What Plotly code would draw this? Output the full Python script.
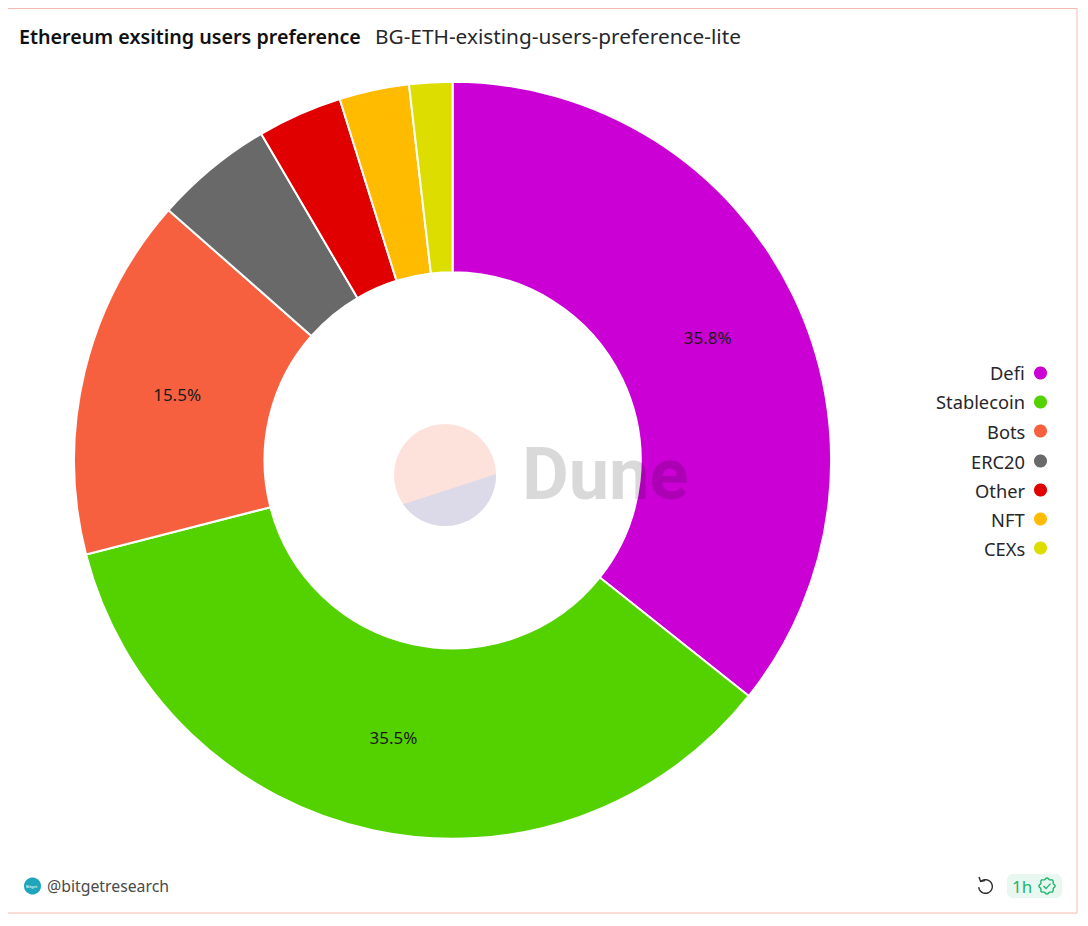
"""Ethereum existing users preference donut, Dune style card."""

import math

import plotly.graph_objects as go

categories = ["Defi", "Stablecoin", "Bots", "ERC20", "Other", "NFT", "CEXs"]
shares = [35.7, 35.3, 15.5, 5.07, 3.62, 2.98, 1.84]
slice_colors = ["#CA00D4", "#54D200", "#F6603F", "#696969", "#E00000", "#FFBB00", "#DDDD00"]
# the labels as printed on the chart
slice_text = ["35.8%", "35.5%", "15.5%", "", "", "", ""]

TITLE = "Ethereum exsiting users preference"
SUBTITLE = "BG-ETH-existing-users-preference-lite"
OWNER = "@bitgetresearch"

FONT = "Noto Sans"
INK = "#1f2024"

# the page keeps the browser's 8px body margin, so the figure starts at (8, 8)
ORIGIN = 8
WIDTH = 1072
HEIGHT = 908

CX, CY, RADIUS = 452.6, 460.3, 378.5


def px(x):
    return (x - ORIGIN) / WIDTH


def py(y):
    return 1 - (y - ORIGIN) / HEIGHT


def path_of(points, close=True):
    body = "L".join(f"{px(x):.5f},{py(y):.5f}" for x, y in points)
    return "M" + body + ("Z" if close else "")


def arc(cx, cy, r, start, end, steps=48):
    """Screen points along a circle, angles in degrees, clockwise on screen."""
    out = []
    for i in range(steps + 1):
        a = math.radians(start + (end - start) * i / steps)
        out.append((cx + r * math.cos(a), cy + r * math.sin(a)))
    return out


def label(x, y, text, size, color=INK, anchor="left", weight=400, family=FONT):
    return dict(
        xref="paper", yref="paper", x=px(x), y=py(y),
        text=text, showarrow=False, xanchor=anchor, yanchor="middle",
        font=dict(family=family, size=size, color=color, weight=weight),
    )


def filled(points, color):
    return dict(
        type="path", xref="paper", yref="paper", layer="above",
        path=path_of(points), fillcolor=color, line=dict(width=0),
    )


def stroked(points, color, width=1.4, close=False):
    return dict(
        type="path", xref="paper", yref="paper", layer="above",
        path=path_of(points, close), line=dict(color=color, width=width),
    )


fig = go.Figure(
    go.Pie(
        labels=categories,
        values=shares,
        text=slice_text,
        textinfo="text",
        textposition="inside",
        insidetextorientation="horizontal",
        textfont=dict(family=FONT, size=17, color="#1a1a1a"),
        marker=dict(colors=slice_colors, line=dict(color="#ffffff", width=2)),
        hole=0.497,
        sort=False,
        direction="clockwise",
        rotation=0,
        domain=dict(
            x=[px(CX - RADIUS), px(CX + RADIUS)],
            y=[py(CY + RADIUS), py(CY - RADIUS)],
        ),
        showlegend=False,
    )
)

annotations = [
    label(17, 36, TITLE, 19.7, "#111111", weight=600),
    label(373, 35.5, SUBTITLE, 20.8, "#26272b"),
    label(520, 475, "Dune", 72, "rgba(0,0,0,0.15)", weight=700, family="Roboto"),
    label(45, 886, OWNER, 15.8, "#4a4a4a"),
    label(1010, 886, "1h", 17, "#1db56c"),
    label(32, 886, "Bitget", 4, "#ffffff", anchor="center"),
]

shapes = [
    # card border
    dict(
        type="rect", xref="paper", yref="paper", layer="below",
        x0=px(7.5), x1=px(1077), y0=py(8.5), y1=py(913),
        line=dict(color="#f7b9ae", width=1), fillcolor="rgba(0,0,0,0)",
    ),
    # dune logo
    filled(arc(445, 475, 51, 0, 360), "#fde2dc"),
    filled(arc(445, 475, 51, -1, 145), "#dcdae8"),
    # footer
    filled(arc(32.5, 886, 8.5, 0, 360), "#1fa6bb"),
    filled(
        arc(1013, 880, 6, 180, 270, 8) + arc(1056, 880, 6, 270, 360, 8)
        + arc(1056, 892, 6, 0, 90, 8) + arc(1013, 892, 6, 90, 180, 8),
        "#e8f7ef",
    ),
    # refresh icon
    stroked(arc(985.5, 886.5, 6.8, -130, 175), "#2b2b2b"),
    stroked([(979, 877), (980.6, 881.5), (985, 880.5)], "#2b2b2b"),
    # verified badge
    stroked(
        [
            (
                1047 + (7.4 + 0.7 * math.cos(math.radians(8 * a))) * math.cos(math.radians(a)),
                886 + (7.4 + 0.7 * math.cos(math.radians(8 * a))) * math.sin(math.radians(a)),
            )
            for a in range(0, 360, 5)
        ],
        "#1db56c",
        close=True,
    ),
    stroked([(1043.5, 886), (1046, 888.6), (1050.5, 883.6)], "#1db56c"),
]

# legend sits right aligned with the dot after the name, drawn by hand
legend_rows = [373, 402, 431, 461, 490, 519, 548]
for name, color, row in zip(categories, slice_colors, legend_rows):
    annotations.append(label(1027, row, name, 18.3, "#26272b", anchor="right"))
    shapes.append(filled(arc(1040.5, row, 6.5, 0, 360), color))

fig.update_layout(
    width=WIDTH,
    height=HEIGHT,
    margin=dict(l=0, r=0, t=0, b=0),
    paper_bgcolor="#ffffff",
    plot_bgcolor="#ffffff",
    annotations=annotations,
    shapes=shapes,
)

fig.write_html("out.html", config={"displayModeBar": False})
